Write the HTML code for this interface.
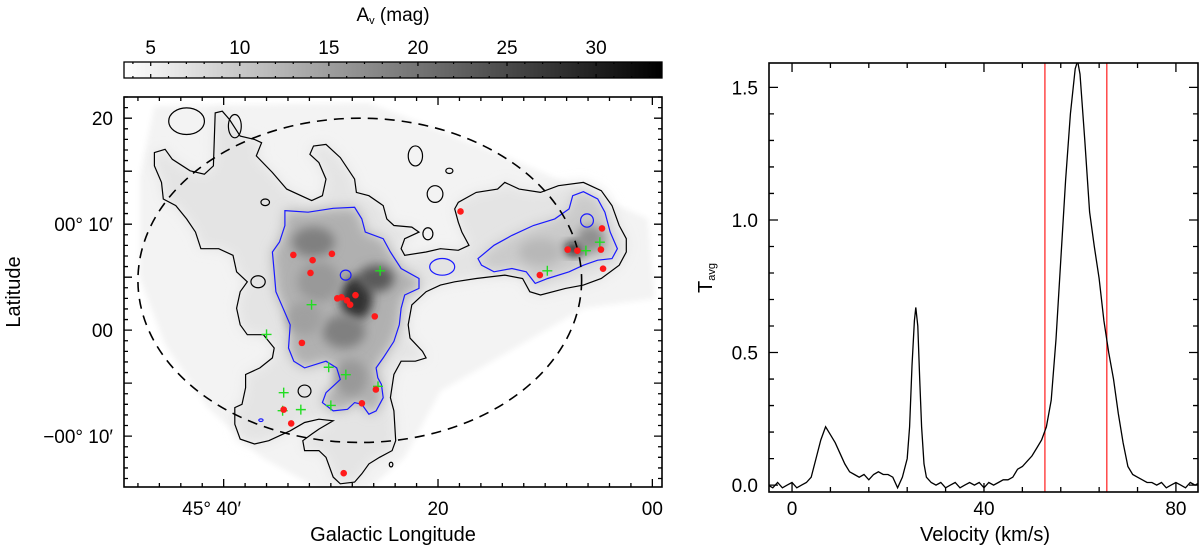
<!DOCTYPE html>
<html><head><meta charset="utf-8">
<style>
html,body{margin:0;padding:0;background:#fff;}
svg{display:block;font-family:"Liberation Sans",Arial,sans-serif;}
</style></head>
<body>
<svg id="fig" width="1200" height="555" viewBox="0 0 1200 555" xmlns="http://www.w3.org/2000/svg">
<defs>
  <linearGradient id="cbar" x1="0" x2="1" y1="0" y2="0">
    <stop offset="0" stop-color="#ffffff"/><stop offset="1" stop-color="#000000"/>
  </linearGradient>
  <filter id="blur6" x="-20%" y="-20%" width="140%" height="140%"><feGaussianBlur stdDeviation="6"/></filter>
  <filter id="blur3" x="-20%" y="-20%" width="140%" height="140%"><feGaussianBlur stdDeviation="3"/></filter>
  <filter id="blur5" x="-50%" y="-50%" width="200%" height="200%"><feGaussianBlur stdDeviation="5"/></filter>
  <clipPath id="mapclip"><rect x="124" y="97" width="538" height="390"/></clipPath>
  <clipPath id="specclip"><rect x="769" y="63" width="429" height="429"/></clipPath>
</defs>
<g id="map-image" clip-path="url(#mapclip)"></g>
<g id="map-contours" clip-path="url(#mapclip)"></g>
<g id="map-marks" clip-path="url(#mapclip)"></g>
<g id="map-axes"></g>
<g id="colorbar"></g>
<g id="spec"></g>
</svg>
<script>
// ---------- Spectrum data ----------
const velocity = [-5,-4,-3,-2,-1,0,1,2,3,4,5,6,7,8,9,10,11,12,13,14,15,16,17,18,19,20,21,22,23,24,24.5,25,25.5,25.8,26.2,26.6,27,27.5,28,29,30,31,32,33,34,35,36,37,38,39,40,41,42,43,44,45,46,47,48,49,50,51,52,53,54,55,56,57,58,59,59.5,60,61,62,63,64,65,66,67,68,69,70,71,72,73,74,75,76,77,78,79,80,81,82,83,84,85];
const tavg = [0.00,-0.01,0.01,-0.01,0.00,0.01,-0.01,0.00,0.01,0.03,0.10,0.17,0.22,0.19,0.16,0.12,0.08,0.05,0.04,0.03,0.04,0.02,0.04,0.05,0.04,0.04,0.03,-0.01,0.03,0.10,0.22,0.45,0.62,0.67,0.60,0.40,0.22,0.08,0.03,0.01,0.00,0.01,-0.01,0.00,0.01,-0.01,0.00,0.01,0.00,0.01,-0.01,0.01,0.00,0.01,0.02,0.02,0.03,0.06,0.07,0.09,0.11,0.14,0.17,0.22,0.32,0.55,0.85,1.15,1.40,1.57,1.60,1.55,1.30,1.03,0.90,0.78,0.62,0.50,0.40,0.27,0.16,0.07,0.04,0.03,0.02,0.01,0.01,0.00,0.01,-0.01,0.00,0.01,0.00,-0.01,0.01,0.00,0.01];
const velLines = [52.7, 65.6];
const specXTicks = [0, 40, 80];
const specYTicks = [0.0, 0.5, 1.0, 1.5];

// ---------- Map data (arcmin offsets: lon from 45°, lat) ----------
const redLon = [17.9,33.5,31.7,29.9,31.9,29.4,29.0,28.5,28.2,27.7,25.9,32.7,25.8,27.1,34.4,33.7,28.8,7.9,7.0,4.8,4.7,4.6,10.5];
const redLat = [11.2,7.1,6.6,7.2,5.4,3.0,3.1,2.8,2.4,3.3,1.3,-1.2,-5.6,-6.9,-7.5,-8.8,-13.5,7.6,7.5,7.6,9.6,5.8,5.2];
const greenLon = [25.4,31.8,36.0,30.2,28.6,25.6,34.4,34.5,32.8,30.0,9.8,6.2,4.9];
const greenLat = [5.6,2.4,-0.4,-3.5,-4.2,-5.3,-5.9,-7.6,-7.5,-7.1,5.6,7.5,8.3];
const ellipseCenter = [27.3, 4.7];
const ellipseRadii = [20.7, 15.3];
const mapXTickLabels = ["45° 40′","20","00"];
const mapXTickVals = [40,20,0];
const mapYTickLabels = ["20","00° 10′","00","−00° 10′"];
const mapYTickVals = [20,10,0,-10];
const cbarTicks = [5,10,15,20,25,30];

const NS="http://www.w3.org/2000/svg";
function mk(tag, attrs, parent){const e=document.createElementNS(NS,tag);for(const k in attrs)e.setAttribute(k,attrs[k]);parent.appendChild(e);return e;}

const MX0=124,MX1=662,MY0=97,MY1=487;
const lonMax=49.3, lonMin=-0.9, latMax=22.0, latMin=-14.8;
function mx(l){return MX0+(lonMax-l)/(lonMax-lonMin)*(MX1-MX0);}
function my(b){return MY0+(latMax-b)/(latMax-latMin)*(MY1-MY0);}
function zx(v){return 124+(v-15)/2.797;}
function zy(v){return 97+(v-12)/3.02;}
function pathFrom(pts){return "M"+pts.map(p=>zx(p[0]).toFixed(1)+","+zy(p[1]).toFixed(1)).join(" L")+" Z";}

const img=document.getElementById('map-image');
const footprint=[[100,40],[700,30],[1100,200],[1480,380],[1500,620],[1300,650],[900,900],[800,1100],[700,1195],[560,1195],[400,1100],[250,950],[130,760],[60,560],[60,250]];
const blackMain=[[100,180],[130,170],[150,200],[200,235],[240,245],[265,220],[270,60],[290,55],[310,80],[340,130],[380,140],[400,150],[385,190],[430,240],[470,290],[540,325],[570,310],[580,260],[560,210],[535,185],[545,160],[580,155],[620,195],[660,260],[665,300],[700,310],[740,340],[750,380],[770,400],[820,405],[840,420],[800,440],[790,470],[800,490],[860,480],[900,470],[950,475],[980,460],[960,420],[950,390],[940,350],[950,330],[1000,300],[1060,290],[1080,270],[1120,290],[1180,300],[1230,280],[1300,270],[1350,295],[1380,340],[1400,400],[1420,440],[1420,480],[1400,520],[1350,560],[1300,580],[1250,590],[1180,610],[1150,600],[1130,560],[1080,550],[1000,560],[940,570],[900,580],[860,600],[820,640],[810,700],[815,740],[850,780],[860,800],[830,810],[790,810],[770,850],[760,920],[770,960],[775,1050],[765,1080],[730,1100],[700,1120],[680,1150],[660,1175],[620,1180],[600,1160],[580,1100],[560,1080],[520,1080],[515,1050],[540,1030],[560,1015],[600,990],[560,985],[520,995],[480,1020],[460,1030],[420,1050],[380,1060],[340,1045],[325,1000],[325,950],[345,940],[355,890],[355,850],[395,830],[430,800],[435,770],[405,730],[360,730],[340,700],[330,650],[340,600],[360,570],[330,540],[320,490],[280,470],[230,470],[215,420],[190,380],[160,340],[125,320],[120,270],[100,220]];
const blueMain=[[465,355],[530,360],[600,348],[660,345],[680,380],[690,420],[740,440],[760,480],[790,530],[840,560],[840,590],[800,610],[790,650],[785,700],[770,750],[740,800],[720,830],[725,860],[735,880],[740,920],[720,960],[700,970],[680,940],[660,935],[640,955],[600,960],[570,935],[580,905],[600,885],[620,865],[610,830],[580,810],[520,830],[490,810],[475,770],[480,700],[460,650],[440,600],[435,540],[430,480],[450,450],[465,400]];
const blueRight=[[1005,500],[1050,460],[1100,430],[1160,400],[1220,380],[1260,350],[1270,310],[1300,298],[1340,320],[1360,360],[1375,420],[1395,470],[1380,500],[1340,505],[1300,520],[1260,540],[1200,560],[1165,575],[1140,540],[1100,530],[1050,540],[1015,520]];

let e;
e=mk('path',{d:pathFrom(footprint),fill:'#f3f3f3',filter:'url(#blur3)'},img);


e=mk('path',{d:pathFrom(blackMain),fill:'#e4e4e4',filter:'url(#blur6)'},img);


e=mk('path',{d:pathFrom(blueMain),fill:'#b0b0b0',filter:'url(#blur6)'},img);


e=mk('path',{d:pathFrom(blueRight),fill:'#cacaca',filter:'url(#blur6)'},img);


const blobs=[[665,620,45,65,'#303030'],[720,560,50,40,'#5a5a5a'],[545,450,60,45,'#808080'],[630,720,60,50,'#808080'],[560,570,60,60,'#999'],[650,860,45,55,'#999'],[520,680,50,50,'#a0a0a0'],[1275,470,30,18,'#111'],[1320,440,40,40,'#909090'],[1180,480,60,40,'#b8b8b8']];
blobs.forEach(b=>{const c=mk('ellipse',{cx:zx(b[0]),cy:zy(b[1]),rx:b[2]/2.8,ry:b[3]/3,fill:b[4],filter:'url(#blur5)'},img);

});

const cg=document.getElementById('map-contours');
e=mk('path',{d:pathFrom(blackMain),fill:'none',stroke:'#000','stroke-width':1.2},cg);


const loops=[[190,85,50,40],[325,100,18,35],[830,190,20,30],[925,235,10,8],[885,305,22,25],[865,425,14,18],[410,330,12,10],[390,570,20,18],[520,900,18,18],[762,1122,5,7],[1310,385,18,20]];
loops.forEach((l,i)=>{const c=mk('ellipse',{cx:zx(l[0]),cy:zy(l[1]),rx:l[2]/2.8,ry:l[3]/3,fill:'none',stroke:i==10?'#1a1aff':'#000','stroke-width':1.2},cg);

});
[blueMain,blueRight].forEach(p=>{const c=mk('path',{d:pathFrom(p),fill:'none',stroke:'#1a1aff','stroke-width':1.2},cg);

});
[[905,525,35,25],[635,550,15,15],[398,988,6,4]].forEach(l=>{const c=mk('ellipse',{cx:zx(l[0]),cy:zy(l[1]),rx:l[2]/2.8,ry:l[3]/3,fill:'none',stroke:'#1a1aff','stroke-width':1.2},cg);

});

const mg=document.getElementById('map-marks');
const ecx=mx(ellipseCenter[0]), ecy=my(ellipseCenter[1]);
e=mk('ellipse',{cx:ecx,cy:ecy,rx:Math.abs(mx(ellipseCenter[0]+ellipseRadii[0])-ecx),ry:Math.abs(my(ellipseCenter[1]+ellipseRadii[1])-ecy),fill:'none',stroke:'#000','stroke-width':1.6,'stroke-dasharray':'10,7'},mg);


greenLon.forEach((l,i)=>{const x=mx(l),y=my(greenLat[i]);
const p=mk('path',{d:`M${x-5},${y} H${x+5} M${x},${y-5} V${y+5}`,stroke:'#22dd22','stroke-width':1.4,fill:'none'},mg);

});
redLon.forEach((l,i)=>{const c=mk('circle',{cx:mx(l),cy:my(redLat[i]),r:3.3,fill:'#ff1a1a'},mg);

});

const ax=document.getElementById('map-axes');
e=mk('rect',{x:MX0,y:MY0,width:MX1-MX0,height:MY1-MY0,fill:'none',stroke:'#000','stroke-width':1.6},ax);


let d='';
for(let b=-14;b<=22;b++){const y=my(b);const L=(b%5==0)?8:4;d+=`M${MX0},${y}h${L}M${MX1},${y}h${-L}`;}
for(let l=0;l<=48;l+=2){const x=mx(l);const L=(l%20==0)?8:4;d+=`M${x},${MY1}v${-L}M${x},${MY0}v${L}`;}
e=mk('path',{d:d,stroke:'#000','stroke-width':1.3,fill:'none'},ax);


mapYTickVals.forEach((v,i)=>{const t=mk('text',{x:113,y:my(v)+7,'text-anchor':'end','font-size':19},ax);t.textContent=mapYTickLabels[i];

});
mapXTickVals.forEach((v,i)=>{const t=mk('text',{x:mx(v)-(i==0?12:0),y:515,'text-anchor':'middle','font-size':19},ax);t.textContent=mapXTickLabels[i];

});
e=mk('text',{x:393,y:541,'text-anchor':'middle','font-size':20},ax);e.textContent='Galactic Longitude';


e=mk('text',{x:20,y:292,'text-anchor':'middle','font-size':20,transform:'rotate(-90 20 292)'},ax);e.textContent='Latitude';



const cb=document.getElementById('colorbar');
const CB0=124,CB1=662,cbMin=3.5,cbMax=33.7;
function cbx(v){return CB0+(v-cbMin)/(cbMax-cbMin)*(CB1-CB0);}
e=mk('rect',{x:CB0,y:62,width:CB1-CB0,height:16,fill:'url(#cbar)',stroke:'#000','stroke-width':1.3},cb);


d='';
for(let v=4;v<=33;v++){const x=cbx(v);const L=(v%5==0)?4:2;d+=`M${x},62v${L}M${x},78v${-L}`;}
e=mk('path',{d:d,stroke:'#000','stroke-width':1.2,fill:'none'},cb);


cbarTicks.forEach(v=>{const t=mk('text',{x:cbx(v),y:54,'text-anchor':'middle','font-size':19},cb);t.textContent=String(v);

});
e=mk('text',{x:393,y:21,'text-anchor':'middle','font-size':19},cb);
e.innerHTML='A<tspan font-size="11" dy="3">v</tspan><tspan dy="-3"> (mag)</tspan>';



const sp=document.getElementById('spec');
const SX0=769,SX1=1198,SY0=63,SY1=492,vMin=-4.8,vMax=84.6,tMin=-0.026,tMax=1.592;
function sx(v){return SX0+(v-vMin)/(vMax-vMin)*(SX1-SX0);}
function sy(t){return SY1-(t-tMin)/(tMax-tMin)*(SY1-SY0);}
const sc=mk('g',{'clip-path':'url(#specclip)'},sp);
velLines.forEach(v=>{const l=mk('line',{x1:sx(v),x2:sx(v),y1:SY0,y2:SY1,stroke:'#ff1a1a','stroke-width':1.2},sc);

});
e=mk('path',{d:'M'+velocity.map((v,i)=>sx(v).toFixed(1)+','+sy(tavg[i]).toFixed(1)).join(' L'),fill:'none',stroke:'#000','stroke-width':1.3},sc);


e=mk('rect',{x:SX0,y:SY0,width:SX1-SX0,height:SY1-SY0,fill:'none',stroke:'#000','stroke-width':1.6},sp);


d='';
for(let v=0;v<=84;v+=8){const x=sx(v);const L=(v%40==0)?9:5;d+=`M${x},${SY1}v${-L}M${x},${SY0}v${L}`;}
for(let k=0;k<=15;k++){const t=k/10;const y=sy(t);const L=(k%5==0)?9:5;d+=`M${SX0},${y}h${L}M${SX1},${y}h${-L}`;}
e=mk('path',{d:d,stroke:'#000','stroke-width':1.3,fill:'none'},sp);


specXTicks.forEach(v=>{const t=mk('text',{x:sx(v),y:515,'text-anchor':'middle','font-size':19},sp);t.textContent=String(v);

});
specYTicks.forEach(v=>{const t=mk('text',{x:758,y:sy(v)+7,'text-anchor':'end','font-size':19},sp);t.textContent=v.toFixed(1);

});
e=mk('text',{x:985,y:541,'text-anchor':'middle','font-size':20},sp);e.textContent='Velocity (km/s)';


e=mk('text',{x:712,y:278,'text-anchor':'middle','font-size':20,transform:'rotate(-90 712 278)'},sp);
e.innerHTML='T<tspan font-size="11" dy="3">avg</tspan>';


</script>
</body></html>
